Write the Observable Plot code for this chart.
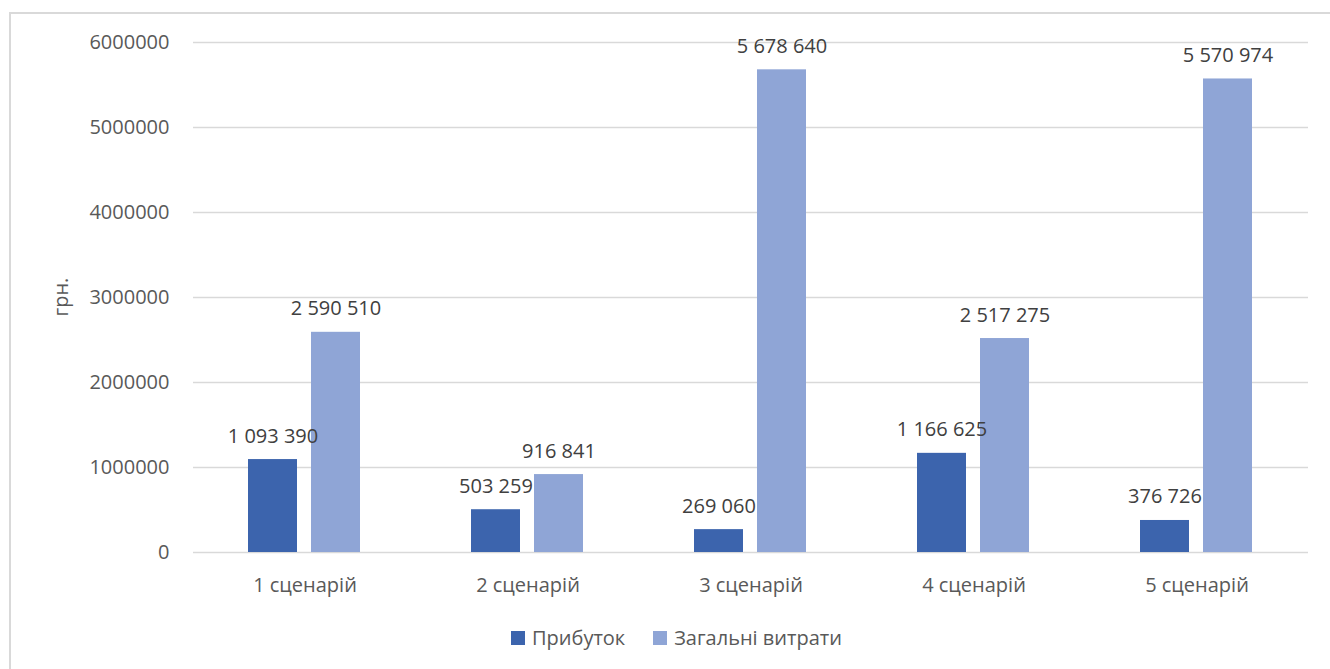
<!DOCTYPE html>
<html>
<head>
<meta charset="utf-8">
<script src="https://cdn.jsdelivr.net/npm/d3@7"></script>
<script src="https://cdn.jsdelivr.net/npm/@observablehq/plot@0.6"></script>
<style>
  html, body { margin: 0; padding: 0; background: #fff; }
  #wrap { position: relative; width: 1330px; height: 669px; overflow: hidden; font-family: "Open Sans", sans-serif; }
  #frame { position: absolute; left: 9px; top: 12px; width: 1400px; height: 700px; border-left: 2px solid #d9d9d9; border-top: 2px solid #d9d9d9; box-sizing: border-box; }
  #chart { position: absolute; left: 0; top: 0; }
  #legend { position: absolute; left: 511px; top: 624px; display: flex; align-items: center; font-size: 20px; color: #595959; white-space: nowrap; }
  #legend .sw { display: inline-block; width: 14px; height: 14px; margin-right: 7px; }
  #legend .item { display: flex; align-items: center; margin-right: 28px; }
</style>
</head>
<body>
<div id="wrap">
  <div id="frame"></div>
  <div id="chart"></div>
  <div id="legend"></div>
</div>
<script>
// Scenarios and series
const scenarios = ["1 сценарій", "2 сценарій", "3 сценарій", "4 сценарій", "5 сценарій"];
const seriesNames = ["Прибуток", "Загальні витрати"];
const profit = [1093390, 503259, 269060, 1166625, 376726];
const totalCosts = [2590510, 916841, 5678640, 2517275, 5570974];
const yTicks = [0, 1000000, 2000000, 3000000, 4000000, 5000000, 6000000];
const colors = ["#3c64ad", "#8fa5d6"];

// Long table built from the arrays above
const rows = [];
scenarios.forEach((s, i) => {
  rows.push({scenario: s, series: seriesNames[0], value: profit[i]});
  rows.push({scenario: s, series: seriesNames[1], value: totalCosts[i]});
});

// Thousands separated by spaces, e.g. 1 093 390
const spaced = d => d3.format(",")(d).replace(/,/g, " ");

const chart = Plot.plot({
  width: 1330,
  height: 610,
  marginTop: 42,
  marginLeft: 192,
  marginRight: 22,
  marginBottom: 58,
  style: {fontFamily: "Open Sans, sans-serif", background: "transparent"},
  fx: {domain: scenarios, padding: 0, label: null, axis: null},
  x: {domain: seriesNames, paddingInner: 0.219, paddingOuter: 0.853, axis: null},
  y: {domain: [0, 6000000], label: null},
  color: {domain: seriesNames, range: colors},
  marks: [
    Plot.gridY(yTicks, {stroke: "#d9d9d9", strokeOpacity: 1, strokeWidth: 1.5}),
    Plot.axisY(yTicks, {
      tickSize: 0, tickPadding: 24, fontSize: 20, fill: "#595959",
      tickFormat: d3.format("d"), label: null
    }),
    Plot.axisFx({
      anchor: "bottom", tickSize: 0, tickPadding: 25, fontSize: 20, fill: "#595959", label: null
    }),
    Plot.barY(rows, {fx: "scenario", x: "series", y: "value", fill: "series"}),
    Plot.text(rows, {
      fx: "scenario", x: "series", y: "value", text: d => spaced(d.value),
      lineAnchor: "bottom", dy: -17, fontSize: 20, fill: "#404040"
    })
  ]
});
document.getElementById("chart").appendChild(chart);

// Unit title for the value axis
d3.select(chart).append("text")
  .attr("transform", "translate(68,297) rotate(-90)")
  .attr("text-anchor", "middle")
  .attr("font-size", 20)
  .attr("fill", "#595959")
  .attr("font-family", "Open Sans, sans-serif")
  .text("грн.");

// Legend
const legend = d3.select("#legend");
seriesNames.forEach((name, i) => {
  const item = legend.append("span").attr("class", "item");
  item.append("span").attr("class", "sw").style("background", colors[i]);
  item.append("span").text(name);
});
</script>
</body>
</html>
